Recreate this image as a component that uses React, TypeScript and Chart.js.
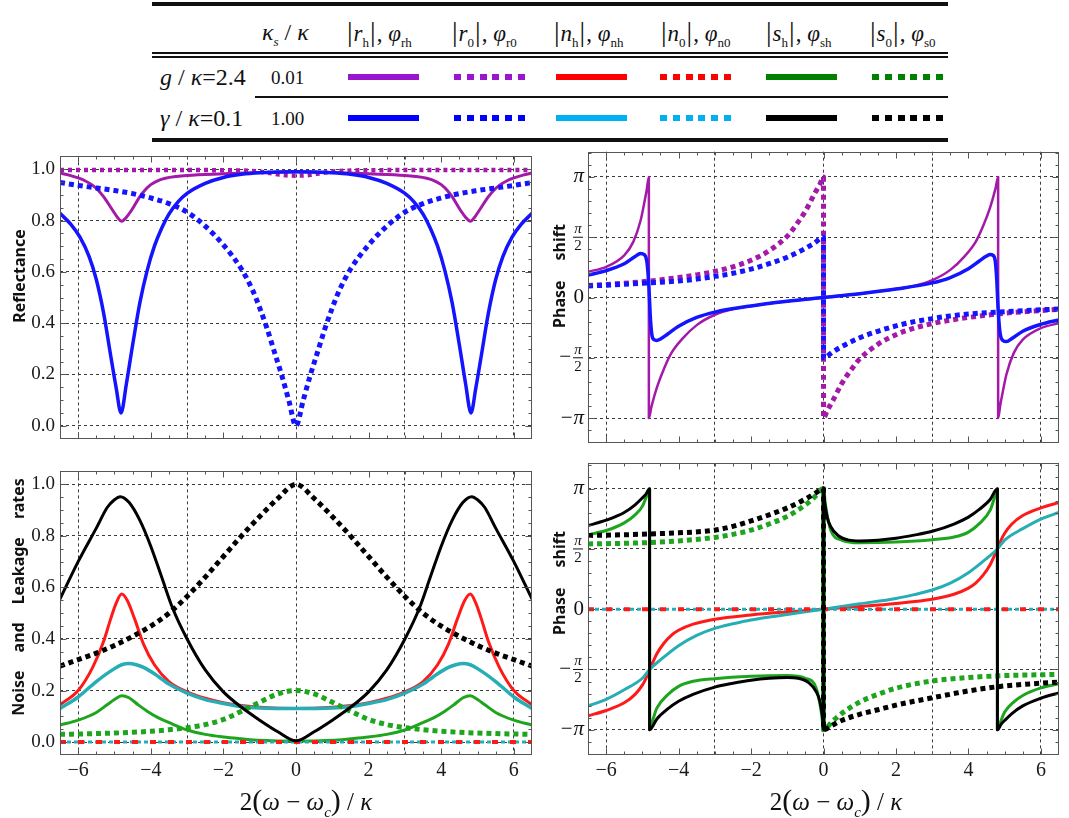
import React, { useEffect, useRef } from 'react';
import { Chart, registerables } from 'chart.js';
Chart.register(...registerables);

const SERIF = '"Liberation Serif", "Times New Roman", serif';
const SANS = '"Noto Sans", "Open Sans", sans-serif';

// ---------- axes / ticks ----------
const X_MIN = -6.5;
const X_MAX = 6.5;
const xTickValues = [-6, -4, -3, -2, 0, 2, 3, 4, 6];
const xTickLabels = ['−6', '−4', '', '−2', '0', '2', '', '4', '6'];
const xGridEvery = 3;
const ampRange = [-0.05, 1.05];
const ampTickValues = [0, 0.2, 0.4, 0.6, 0.8, 1.0];
const ampTickLabels = ['0.0', '0.2', '0.4', '0.6', '0.8', '1.0'];
const phaseRange = [-3.8, 3.8];
const phaseTickValues = [-Math.PI, -Math.PI / 2, 0, Math.PI / 2, Math.PI];
const phaseTickLabels = ['−π', '−π/2', '0', 'π/2', 'π'];

// ---------- colours ----------
const C = {
  purple: '#a31aa8',
  blue: '#1414ff',
  red: '#ff1a1a',
  cyan: '#27adb5',
  green: '#1ea51e',
  black: '#000000',
};

// ================= Panel 1: Reflectance (A: κs/κ=0.01, B: κs/κ=1.00) =================
const reflRhX_A = [-6.5, -6.25, -6, -5.8, -5.6, -5.45, -5.3, -5.05, -4.92, -4.8, -4.67, -4.53, -4.3, -4.15, -4, -3.8, -3.6, -3.3, -3, -2, -1, 0, 1, 2, 3, 3.3, 3.6, 3.8, 4, 4.15, 4.3, 4.53, 4.67, 4.8, 4.92, 5.05, 5.3, 5.45, 5.6, 5.8, 6, 6.25, 6.5];
const reflRhY_A = [0.985, 0.977, 0.966, 0.954, 0.937, 0.918, 0.893, 0.84, 0.813, 0.797, 0.813, 0.84, 0.893, 0.92, 0.94, 0.956, 0.965, 0.972, 0.976, 0.982, 0.987, 0.99, 0.987, 0.982, 0.976, 0.972, 0.965, 0.956, 0.94, 0.92, 0.893, 0.84, 0.813, 0.797, 0.813, 0.84, 0.893, 0.918, 0.937, 0.954, 0.966, 0.977, 0.985];
const reflR0X_A = [-6.5, -4, -2, -1.2, -0.8, -0.4, 0, 0.4, 0.8, 1.2, 2, 4, 6.5];
const reflR0Y_A = [0.997, 0.997, 0.996, 0.993, 0.987, 0.978, 0.975, 0.978, 0.987, 0.993, 0.996, 0.997, 0.997];
const reflRhX_B = [-6.5, -6.2, -5.95, -5.7, -5.5, -5.3, -5.1, -4.95, -4.82, -4.67, -4.5, -4.3, -4.1, -3.9, -3.7, -3.5, -3.25, -3, -2.5, -2, -1.5, -1, 0, 1, 1.5, 2, 2.5, 3, 3.25, 3.5, 3.7, 3.9, 4.1, 4.3, 4.5, 4.67, 4.82, 4.95, 5.1, 5.3, 5.5, 5.7, 5.95, 6.2, 6.5];
const reflRhY_B = [0.828, 0.785, 0.735, 0.66, 0.57, 0.44, 0.27, 0.145, 0.05, 0.165, 0.315, 0.48, 0.605, 0.7, 0.77, 0.825, 0.873, 0.906, 0.945, 0.968, 0.98, 0.986, 0.99, 0.986, 0.98, 0.968, 0.945, 0.906, 0.873, 0.825, 0.77, 0.7, 0.605, 0.48, 0.315, 0.165, 0.05, 0.145, 0.27, 0.44, 0.57, 0.66, 0.735, 0.785, 0.828];
const reflR0X_B = [-6.5, -6, -5.5, -5, -4.5, -4, -3.5, -3, -2.5, -2, -1.5, -1.2, -1, -0.8, -0.6, -0.4, -0.2, 0, 0.2, 0.4, 0.6, 0.8, 1, 1.2, 1.5, 2, 2.5, 3, 3.5, 4, 4.5, 5, 5.5, 6, 6.5];
const reflR0Y_B = [0.948, 0.937, 0.927, 0.917, 0.905, 0.888, 0.866, 0.833, 0.778, 0.705, 0.61, 0.53, 0.46, 0.38, 0.29, 0.2, 0.1, 0.0, 0.1, 0.2, 0.29, 0.38, 0.46, 0.53, 0.61, 0.705, 0.778, 0.833, 0.866, 0.888, 0.905, 0.917, 0.927, 0.937, 0.948];

// ================= Panel 2: reflection phase =================
const phRhX_A = [-6.5, -6, -5.5, -5.25, -5.05, -4.95, -4.88, -4.82, -4.82, -4.75, -4.6, -4.4, -4.2, -3.9, -3.5, -3, -2.5, -2, -1, 0, 1, 2, 2.5, 3, 3.5, 3.9, 4.2, 4.4, 4.6, 4.75, 4.82, 4.82, 4.88, 4.95, 5.05, 5.25, 5.5, 6, 6.5];
const phRhY_A = [0.67, 0.8, 1.1, 1.45, 2.0, 2.45, 2.8, 3.1416, -3.1416, -2.85, -2.35, -1.85, -1.45, -1.08, -0.72, -0.45, -0.3, -0.22, -0.1, 0, 0.1, 0.22, 0.3, 0.45, 0.72, 1.08, 1.45, 1.85, 2.35, 2.85, 3.1416, -3.1416, -2.8, -2.45, -2.0, -1.45, -1.1, -0.8, -0.67];
const phRhX_B = [-6.5, -6, -5.5, -5.2, -5.05, -4.95, -4.87, -4.82, -4.78, -4.74, -4.68, -4.6, -4.5, -4.3, -4, -3.5, -3, -2, -1, 0, 1, 2, 3, 3.5, 4, 4.3, 4.5, 4.6, 4.68, 4.74, 4.78, 4.82, 4.87, 4.95, 5.05, 5.2, 5.5, 6, 6.5];
const phRhY_B = [0.585, 0.7, 0.88, 1.07, 1.15, 1.12, 0.9, 0.3, -0.5, -0.95, -1.1, -1.12, -1.08, -0.95, -0.75, -0.52, -0.38, -0.22, -0.1, 0, 0.1, 0.22, 0.38, 0.52, 0.75, 0.95, 1.08, 1.12, 1.1, 0.95, 0.5, -0.3, -0.9, -1.12, -1.15, -1.07, -0.88, -0.7, -0.585];
const phR0X_A = [-6.5, -6, -5, -4, -3.5, -3, -2.5, -2, -1.5, -1, -0.75, -0.5, -0.25, -0.1, 0, 0, 0.1, 0.25, 0.5, 0.75, 1, 1.5, 2, 2.5, 3, 3.5, 4, 5, 6, 6.5];
const phR0Y_A = [0.31, 0.34, 0.41, 0.52, 0.59, 0.68, 0.8, 0.97, 1.22, 1.6, 1.9, 2.25, 2.7, 2.95, 3.1416, -3.1416, -2.95, -2.7, -2.25, -1.9, -1.6, -1.22, -0.97, -0.8, -0.68, -0.59, -0.52, -0.41, -0.34, -0.31];
const phR0X_B = [-6.5, -6, -5, -4, -3.5, -3, -2.5, -2, -1.5, -1, -0.5, -0.25, 0, 0, 0.25, 0.5, 1, 1.5, 2, 2.5, 3, 3.5, 4, 5, 6, 6.5];
const phR0Y_B = [0.3, 0.32, 0.37, 0.43, 0.48, 0.55, 0.63, 0.74, 0.88, 1.05, 1.28, 1.42, 1.5708, -1.5708, -1.42, -1.28, -1.05, -0.88, -0.74, -0.63, -0.55, -0.48, -0.43, -0.37, -0.32, -0.3];

// ================= Panel 3: noise and leakage rates =================
const rateShX_B = [-6.5, -6, -5.5, -5.2, -5, -4.84, -4.6, -4.3, -4, -3.7, -3.4, -3, -2.5, -2, -1.5, -1, -0.5, 0, 0.5, 1, 1.5, 2, 2.5, 3, 3.4, 3.7, 4, 4.3, 4.6, 4.84, 5, 5.2, 5.5, 6, 6.5];
const rateShY_B = [0.555, 0.7, 0.83, 0.91, 0.94, 0.952, 0.93, 0.86, 0.76, 0.64, 0.52, 0.4, 0.28, 0.195, 0.135, 0.085, 0.04, 0.005, 0.04, 0.085, 0.135, 0.195, 0.28, 0.4, 0.52, 0.64, 0.76, 0.86, 0.93, 0.952, 0.94, 0.91, 0.83, 0.7, 0.555];
const rateS0X_B = [-6.5, -6, -5.5, -5, -4.5, -4, -3.5, -3, -2.5, -2, -1.5, -1, -0.5, 0, 0.5, 1, 1.5, 2, 2.5, 3, 3.5, 4, 4.5, 5, 5.5, 6, 6.5];
const rateS0Y_B = [0.295, 0.32, 0.345, 0.375, 0.41, 0.45, 0.5, 0.565, 0.64, 0.72, 0.8, 0.875, 0.945, 1.0, 0.945, 0.875, 0.8, 0.72, 0.64, 0.565, 0.5, 0.45, 0.41, 0.375, 0.345, 0.32, 0.295];
const rateNhX_A = [-6.5, -6, -5.6, -5.3, -5.1, -4.95, -4.8, -4.65, -4.45, -4.2, -3.9, -3.5, -3, -2.5, -2, -1.5, -1, 0, 1, 1.5, 2, 2.5, 3, 3.5, 3.9, 4.2, 4.45, 4.65, 4.8, 4.95, 5.1, 5.3, 5.6, 6, 6.5];
const rateNhY_A = [0.145, 0.2, 0.29, 0.39, 0.48, 0.54, 0.574, 0.55, 0.48, 0.38, 0.3, 0.235, 0.195, 0.17, 0.153, 0.142, 0.135, 0.13, 0.135, 0.142, 0.153, 0.17, 0.195, 0.235, 0.3, 0.38, 0.48, 0.55, 0.574, 0.54, 0.48, 0.39, 0.29, 0.2, 0.145];
const rateNhX_B = [-6.5, -6, -5.5, -5, -4.8, -4.6, -4.4, -4.2, -3.9, -3.5, -3, -2.5, -2, -1.5, -1, 0, 1, 1.5, 2, 2.5, 3, 3.5, 3.9, 4.2, 4.4, 4.6, 4.8, 5, 5.5, 6, 6.5];
const rateNhY_B = [0.13, 0.175, 0.235, 0.285, 0.3, 0.305, 0.3, 0.29, 0.265, 0.225, 0.19, 0.165, 0.15, 0.138, 0.132, 0.13, 0.132, 0.138, 0.15, 0.165, 0.19, 0.225, 0.265, 0.29, 0.3, 0.305, 0.3, 0.285, 0.235, 0.175, 0.13];
const rateShX_A = [-6.5, -6, -5.5, -5.2, -5, -4.8, -4.6, -4.35, -4.1, -3.8, -3.4, -3, -2.5, -2, -1.5, -1, 0, 1, 1.5, 2, 2.5, 3, 3.4, 3.8, 4.1, 4.35, 4.6, 4.8, 5, 5.2, 5.5, 6, 6.5];
const rateShY_A = [0.066, 0.085, 0.115, 0.145, 0.165, 0.18, 0.172, 0.145, 0.12, 0.095, 0.07, 0.047, 0.03, 0.02, 0.013, 0.007, 0.003, 0.007, 0.013, 0.02, 0.03, 0.047, 0.07, 0.095, 0.12, 0.145, 0.172, 0.18, 0.165, 0.145, 0.115, 0.085, 0.066];
const rateS0X_A = [-6.5, -5.5, -4.5, -4, -3.5, -3, -2.5, -2, -1.5, -1, -0.5, 0, 0.5, 1, 1.5, 2, 2.5, 3, 3.5, 4, 4.5, 5.5, 6.5];
const rateS0Y_A = [0.03, 0.033, 0.038, 0.042, 0.048, 0.056, 0.068, 0.088, 0.12, 0.155, 0.187, 0.2, 0.187, 0.155, 0.12, 0.088, 0.068, 0.056, 0.048, 0.042, 0.038, 0.033, 0.03];
const n0X = [-6.5, 6.5];
const rateN0Y_A = [0, 0];
const rateN0Y_B = [0, 0];

// ================= Panel 4: noise / leakage phase =================
const phShX_B = [-6.5, -6, -5.5, -5.2, -5, -4.9, -4.8, -4.8, -4.6, -4.3, -4, -3.6, -3, -2.5, -2, -1.5, -1, -0.7, -0.4, -0.2, -0.1, -0.03, 0, 0, 0.03, 0.1, 0.2, 0.4, 0.7, 1, 1.5, 2, 2.5, 3, 3.6, 4, 4.3, 4.6, 4.8, 4.8, 4.9, 5, 5.2, 5.5, 6, 6.5];
const phShY_B = [2.18, 2.32, 2.52, 2.72, 2.9, 3.0, 3.1416, -3.1416, -2.86, -2.6, -2.4, -2.22, -2.03, -1.93, -1.85, -1.8, -1.78, -1.8, -1.92, -2.15, -2.4, -2.8, -3.1416, 3.1416, 2.8, 2.4, 2.15, 1.92, 1.8, 1.78, 1.8, 1.85, 1.93, 2.03, 2.22, 2.4, 2.6, 2.86, 3.1416, -3.1416, -3.0, -2.9, -2.72, -2.52, -2.32, -2.18];
const phShX_A = [-6.5, -6, -5.5, -5.2, -5, -4.9, -4.8, -4.8, -4.7, -4.6, -4.3, -4, -3.6, -3, -2, -1, -0.5, -0.2, -0.05, 0, 0, 0.05, 0.2, 0.5, 1, 2, 3, 3.6, 4, 4.3, 4.6, 4.7, 4.8, 4.8, 4.9, 5, 5.2, 5.5, 6, 6.5];
const phShY_A = [1.94, 2.05, 2.25, 2.46, 2.68, 2.9, 3.1416, -3.1416, -2.85, -2.58, -2.23, -2.01, -1.88, -1.81, -1.75, -1.73, -1.8, -2.06, -2.75, -3.1416, 3.1416, 2.75, 2.06, 1.8, 1.73, 1.75, 1.81, 1.88, 2.01, 2.23, 2.58, 2.85, 3.1416, -3.1416, -2.9, -2.68, -2.46, -2.25, -2.05, -1.94];
const phS0X_B = [-6.5, -5.5, -4.5, -4, -3, -2.5, -2, -1.5, -1, -0.5, -0.2, 0, 0, 0.25, 0.5, 1, 1.5, 2, 2.5, 3, 4, 5, 6.5];
const phS0Y_B = [1.92, 1.94, 1.97, 1.99, 2.06, 2.16, 2.3, 2.46, 2.64, 2.87, 3.04, 3.1416, -3.1416, -3.02, -2.9, -2.74, -2.62, -2.5, -2.4, -2.31, -2.13, -2.0, -1.9];
const phS0X_A = [-6.5, -5, -4, -3, -2.5, -2, -1.5, -1, -0.5, -0.25, 0, 0, 0.25, 0.5, 1, 1.5, 2, 2.5, 3, 4, 5, 6.5];
const phS0Y_A = [1.7, 1.73, 1.78, 1.87, 1.95, 2.06, 2.22, 2.42, 2.72, 2.92, 3.1416, -3.1416, -2.92, -2.72, -2.42, -2.22, -2.06, -1.95, -1.87, -1.78, -1.73, -1.7];
const phNhX_A = [-6.5, -6, -5.5, -5.2, -5, -4.9, -4.8, -4.7, -4.6, -4.4, -4.2, -4, -3.6, -3, -2, -1, 0, 1, 2, 3, 3.6, 4, 4.2, 4.4, 4.6, 4.7, 4.8, 4.9, 5, 5.2, 5.5, 6, 6.5];
const phNhY_A = [-2.78, -2.64, -2.44, -2.22, -1.98, -1.8, -1.5708, -1.36, -1.16, -0.88, -0.68, -0.55, -0.39, -0.26, -0.15, -0.07, 0, 0.07, 0.15, 0.26, 0.39, 0.55, 0.68, 0.88, 1.16, 1.36, 1.5708, 1.8, 1.98, 2.22, 2.44, 2.64, 2.78];
const phNhX_B = [-6.5, -6, -5.5, -5, -4.8, -4.5, -4, -3.5, -3, -2.5, -2, -1, 0, 1, 2, 2.5, 3, 3.5, 4, 4.5, 4.8, 5, 5.5, 6, 6.5];
const phNhY_B = [-2.52, -2.35, -2.1, -1.8, -1.5708, -1.32, -0.95, -0.68, -0.5, -0.38, -0.28, -0.14, 0, 0.14, 0.28, 0.38, 0.5, 0.68, 0.95, 1.32, 1.5708, 1.8, 2.1, 2.35, 2.52];
const phN0Y_A = [0, 0];
const phN0Y_B = [0, 0];

// ---------- legend table ----------
const legendSymbols = ['r', 'r', 'n', 'n', 's', 's'];
const legendSubs = ['h', '0', 'h', '0', 'h', '0'];
const legendPhiSubs = ['rh', 'r0', 'nh', 'n0', 'sh', 's0'];
const legendHeaderX = [346, 451, 553, 660, 765, 869];
const legendSwatchX = [348, 454, 556, 660, 766, 872];
const legendDotted = [false, true, false, true, false, true];
const legendRowKs = ['0.01', '1.00'];
const legendRowColors = [
  ['#9a16cc', '#9a16cc', '#ff0000', '#ff0000', '#008000', '#008000'],
  ['#0000ff', '#0000ff', '#00b0f0', '#00b0f0', '#000000', '#000000'],
];
const legendRowY = [77, 118];

// ---------- helpers ----------
type Series = { xs: number[]; ys: number[]; color: string; width: number; dash?: number[]; dashOffset?: number };

function toDataset(s: Series) {
  return {
    data: s.xs.map((x, i) => ({ x, y: s.ys[i] })),
    borderColor: s.color,
    backgroundColor: s.color,
    borderWidth: s.width,
    borderDash: s.dash || [],
    borderDashOffset: s.dashOffset || 0,
    borderCapStyle: 'butt',
    borderJoinStyle: 'round',
    pointRadius: 0,
    pointHoverRadius: 0,
    fill: false,
    cubicInterpolationMode: 'monotone',
  };
}

const decoPlugin = {
  id: 'deco',
  afterDraw(chart: any, _args: any, opts: any) {
    const { ctx, chartArea: a } = chart;
    const xs = chart.scales.x;
    const ys = chart.scales.y;
    ctx.save();
    ctx.strokeStyle = '#555';
    ctx.lineWidth = 1;
    const L = Math.round(a.left) + 0.5;
    const R = Math.round(a.right) - 0.5;
    const T = Math.round(a.top) + 0.5;
    const B = Math.round(a.bottom) - 0.5;
    ctx.beginPath();
    for (let k = -13; k <= 13; k++) {
      const v = k * 0.5;
      if (v <= X_MIN + 1e-6 || v >= X_MAX - 1e-6) continue;
      const len = k % 4 === 0 ? 6 : 3;
      const px = Math.round(xs.getPixelForValue(v)) + 0.5;
      ctx.moveTo(px, B); ctx.lineTo(px, B - len);
      ctx.moveTo(px, T); ctx.lineTo(px, T + len);
    }
    const step = opts.yStep;
    for (let k = Math.ceil(ys.min / step); k * step <= ys.max; k++) {
      const v = k * step;
      if (v <= ys.min + 1e-6 || v >= ys.max - 1e-6) continue;
      const len = k % opts.yMajorEvery === 0 ? 6 : 3;
      const py = Math.round(ys.getPixelForValue(v)) + 0.5;
      ctx.moveTo(L, py); ctx.lineTo(L + len, py);
      ctx.moveTo(R, py); ctx.lineTo(R - len, py);
    }
    ctx.stroke();
    ctx.strokeRect(L, T, R - L, B - T);

    // phase tick labels
    if (opts.phaseLabels) {
      const xr = a.left - 4;
      ctx.fillStyle = '#111';
      ctx.textBaseline = 'middle';
      phaseTickValues.forEach((v, i) => {
        const lab = phaseTickLabels[i];
        const py = ys.getPixelForValue(v);
        const neg = lab.startsWith('−');
        const body = neg ? lab.slice(1) : lab;
        let leftEdge = xr;
        if (body === 'π') {
          ctx.font = `italic 21px ${SERIF}`;
          ctx.textAlign = 'right';
          ctx.fillText('π', xr, py);
          leftEdge = xr - ctx.measureText('π').width;
        } else if (body === '0') {
          ctx.font = `21px ${SERIF}`;
          ctx.textAlign = 'right';
          ctx.fillText('0', xr, py);
        } else {
          const cx = xr - 6;
          ctx.textAlign = 'center';
          ctx.font = `italic 15px ${SERIF}`;
          ctx.fillText('π', cx, py - 8);
          ctx.font = `15px ${SERIF}`;
          ctx.fillText('2', cx, py + 9);
          ctx.fillRect(cx - 5, py - 0.5, 10, 1);
          leftEdge = cx - 6;
        }
        if (neg) {
          ctx.font = `21px ${SERIF}`;
          ctx.textAlign = 'right';
          ctx.fillText('−', leftEdge - 1, py);
        }
      });
    }

    // rotated axis title
    const t = opts.title;
    ctx.save();
    ctx.translate(t.x, t.y);
    ctx.rotate(-Math.PI / 2);
    ctx.font = `bold 16px ${SANS}`;
    ctx.fillStyle = '#111';
    ctx.textBaseline = 'middle';
    ctx.textAlign = 'left';
    const widths = t.words.map((w: string) => ctx.measureText(w).width);
    const total = widths.reduce((p: number, c: number) => p + c, 0) + t.gap * (t.words.length - 1);
    let cx = -total / 2;
    t.words.forEach((w: string, i: number) => {
      ctx.fillText(w, cx, 0);
      cx += widths[i] + t.gap;
    });
    ctx.restore();
    ctx.restore();
  },
};

type PanelCfg = {
  left: number; top: number; w: number; h: number;
  yAxisWidth: number; padTop: number; padRight: number; xAxisHeight: number;
  phase: boolean; showX: boolean;
  title: { words: string[]; gap: number; x: number; y: number };
  series: Series[];
};

function buildConfig(cfg: PanelCfg): any {
  const yRange = cfg.phase ? phaseRange : ampRange;
  const yTicks = cfg.phase ? phaseTickValues : ampTickValues;
  return {
    type: 'line',
    data: { datasets: cfg.series.map(toDataset) },
    plugins: [decoPlugin],
    options: {
      animation: false,
      responsive: false,
      devicePixelRatio: 1,
      events: [],
      layout: { padding: { top: cfg.padTop, right: cfg.padRight, bottom: 0, left: 0 } },
      plugins: {
        legend: { display: false },
        tooltip: { enabled: false },
        deco: {
          phaseLabels: cfg.phase,
          yStep: cfg.phase ? Math.PI / 10 : 0.05,
          yMajorEvery: cfg.phase ? 5 : 4,
          title: cfg.title,
        },
      },
      scales: {
        x: {
          type: 'linear', min: X_MIN, max: X_MAX, bounds: 'data',
          afterBuildTicks: (s: any) => { s.ticks = xTickValues.map((v) => ({ value: v })); },
          afterFit: (s: any) => { s.height = cfg.xAxisHeight; },
          ticks: {
            display: cfg.showX, autoSkip: false, maxRotation: 0, minRotation: 0, padding: 4,
            color: '#1a1a1a', font: { family: SERIF, size: 20 },
            callback: (_v: any, i: number) => xTickLabels[i],
          },
          grid: {
            drawTicks: false, lineWidth: 1,
            color: (c: any) => (c.tick && Math.abs(c.tick.value % xGridEvery) < 1e-9 ? '#3a3a3a' : 'rgba(0,0,0,0)'),
          },
          border: { display: false, dash: [3, 3] },
        },
        y: {
          type: 'linear', min: yRange[0], max: yRange[1], bounds: 'data',
          afterBuildTicks: (s: any) => { s.ticks = yTicks.map((v) => ({ value: v })); },
          afterFit: (s: any) => { s.width = cfg.yAxisWidth; },
          ticks: {
            display: !cfg.phase, autoSkip: false, padding: 5,
            color: '#1a1a1a', font: { family: SERIF, size: 19 },
            callback: (_v: any, i: number) => ampTickLabels[i],
          },
          grid: { drawTicks: false, lineWidth: 1, color: '#3a3a3a' },
          border: { display: false, dash: [3, 3] },
        },
      },
    },
  };
}

function Panel({ cfg }: { cfg: PanelCfg }) {
  const ref = useRef<HTMLCanvasElement>(null);
  useEffect(() => {
    const chart = new Chart(ref.current as HTMLCanvasElement, buildConfig(cfg));
    return () => chart.destroy();
  }, []);
  return (
    <canvas
      ref={ref}
      width={cfg.w}
      height={cfg.h}
      style={{ position: 'absolute', left: cfg.left, top: cfg.top, width: cfg.w, height: cfg.h }}
    />
  );
}

const DOT = [5, 4];

const panels: PanelCfg[] = [
  {
    left: 0, top: 140, w: 540, h: 315, yAxisWidth: 60, padTop: 11.7, padRight: 8, xAxisHeight: 11.7,
    phase: false, showX: false,
    title: { words: ['Reflectance'], gap: 0, x: 20, y: 136 },
    series: [
      { xs: reflRhX_B, ys: reflRhY_B, color: C.blue, width: 3.5 },
      { xs: reflR0X_B, ys: reflR0Y_B, color: C.blue, width: 5, dash: DOT },
      { xs: reflRhX_A, ys: reflRhY_A, color: C.purple, width: 3 },
      { xs: reflR0X_A, ys: reflR0Y_A, color: C.purple, width: 4.5, dash: [4, 4] },
    ],
  },
  {
    left: 540, top: 140, w: 529, h: 315, yAxisWidth: 48, padTop: 11.7, padRight: 10, xAxisHeight: 11.7,
    phase: true, showX: false,
    title: { words: ['Phase', 'shift'], gap: 20, x: 20, y: 136 },
    series: [
      { xs: phRhX_B, ys: phRhY_B, color: C.blue, width: 3.5 },
      { xs: phR0X_B, ys: phR0Y_B, color: C.blue, width: 5, dash: DOT },
      { xs: phRhX_A, ys: phRhY_A, color: C.purple, width: 2.5 },
      { xs: phR0X_A, ys: phR0Y_A, color: C.purple, width: 5, dash: DOT },
    ],
  },
  {
    left: 0, top: 455, w: 540, h: 363, yAxisWidth: 60, padTop: 8.4, padRight: 8, xAxisHeight: 63,
    phase: false, showX: true,
    title: { words: ['Noise', 'and', 'Leakage', 'rates'], gap: 18, x: 19, y: 142 },
    series: [
      { xs: rateShX_B, ys: rateShY_B, color: C.black, width: 3 },
      { xs: rateS0X_B, ys: rateS0Y_B, color: C.black, width: 5, dash: DOT },
      { xs: n0X, ys: rateN0Y_A, color: C.red, width: 4, dash: [6, 12] },
      { xs: n0X, ys: rateN0Y_B, color: C.cyan, width: 3, dash: [4, 3] },
      { xs: rateS0X_A, ys: rateS0Y_A, color: C.green, width: 5, dash: DOT },
      { xs: rateShX_A, ys: rateShY_A, color: C.green, width: 3 },
      { xs: rateNhX_B, ys: rateNhY_B, color: C.cyan, width: 3.5 },
      { xs: rateNhX_A, ys: rateNhY_A, color: C.red, width: 3 },
    ],
  },
  {
    left: 540, top: 455, w: 529, h: 363, yAxisWidth: 48, padTop: 8.4, padRight: 10, xAxisHeight: 63,
    phase: true, showX: true,
    title: { words: ['Phase', 'shift'], gap: 20, x: 20, y: 128 },
    series: [
      { xs: phShX_B, ys: phShY_B, color: C.black, width: 3 },
      { xs: phS0X_B, ys: phS0Y_B, color: C.black, width: 5, dash: DOT },
      { xs: n0X, ys: phN0Y_A, color: C.red, width: 4, dash: [6, 12] },
      { xs: n0X, ys: phN0Y_B, color: C.cyan, width: 3, dash: [4, 3] },
      { xs: phShX_A, ys: phShY_A, color: C.green, width: 3 },
      { xs: phS0X_A, ys: phS0Y_A, color: C.green, width: 5, dash: DOT },
      { xs: phNhX_B, ys: phNhY_B, color: C.cyan, width: 3 },
      { xs: phNhX_A, ys: phNhY_A, color: C.red, width: 3 },
    ],
  },
];

// ---------- HTML parts ----------
const Sub = ({ children }: { children: React.ReactNode }) => (
  <span style={{ fontSize: 13, position: 'relative', top: 6, fontStyle: 'normal' }}>{children}</span>
);
const Bar = () => <span style={{ fontSize: 28, fontStyle: 'normal', margin: '0 1px' }}>|</span>;

function Txt({ x, y, size = 24, children }: { x: number; y: number; size?: number; children: React.ReactNode }) {
  return (
    <div
      style={{
        position: 'absolute', left: x, top: y, transform: 'translateY(-50%)', whiteSpace: 'nowrap',
        fontFamily: SERIF, fontSize: size, lineHeight: 1, color: '#111',
      }}
    >
      {children}
    </div>
  );
}

function Legend() {
  const rule = (top: number, h: number, left = 152, width = 796) => (
    <div style={{ position: 'absolute', left, top, width, height: h, background: '#111' }} />
  );
  return (
    <>
      {rule(2, 4)}
      {rule(51.5, 2)}
      {rule(55.5, 2)}
      {rule(96, 1.5, 255, 693)}
      {rule(138, 4)}
      <Txt x={262} y={32}>
        <i>κ</i><Sub><i>s</i></Sub> / <i>κ</i>
      </Txt>
      {legendSymbols.map((s, i) => (
        <Txt key={'h' + i} x={legendHeaderX[i]} y={32} size={23}>
          <Bar /><i>{s}</i><Sub>{legendSubs[i]}</Sub><Bar />, <i>φ</i><Sub>{legendPhiSubs[i]}</Sub>
        </Txt>
      ))}
      <Txt x={160} y={legendRowY[0]}>
        <i>g</i> / <i>κ</i>=2.4
      </Txt>
      <Txt x={160} y={legendRowY[1]}>
        <i>γ</i> / <i>κ</i>=0.1
      </Txt>
      {legendRowKs.map((k, r) => (
        <Txt key={'k' + r} x={271} y={legendRowY[r]} size={19}>{k}</Txt>
      ))}
      {legendRowColors.map((cols, r) =>
        cols.map((col, i) => (
          <div
            key={`sw${r}-${i}`}
            style={{
              position: 'absolute', left: legendSwatchX[i], top: legendRowY[r] - 3, width: 71, height: 6,
              background: legendDotted[i]
                ? `repeating-linear-gradient(to right, ${col} 0px, ${col} 7px, transparent 7px, transparent 12.8px)`
                : col,
            }}
          />
        )),
      )}
    </>
  );
}

function XTitle({ cx }: { cx: number }) {
  return (
    <div
      style={{
        position: 'absolute', left: cx, top: 786, transform: 'translateX(-50%)', whiteSpace: 'nowrap',
        fontFamily: SERIF, fontSize: 25, lineHeight: '28px', color: '#111',
      }}
    >
      2<span style={{ fontSize: 30 }}>(</span><i>ω</i> − <i>ω</i>
      <span style={{ fontSize: 15, position: 'relative', top: 7 }}><i>c</i></span>
      <span style={{ fontSize: 30 }}>)</span> / <i>κ</i>
    </div>
  );
}

export default function App() {
  return (
    <div style={{ position: 'absolute', left: 0, top: 0, width: 1069, height: 818, background: '#fff', overflow: 'hidden' }}>
      {panels.map((p, i) => (
        <Panel key={i} cfg={p} />
      ))}
      <Legend />
      <XTitle cx={306} />
      <XTitle cx={836} />
    </div>
  );
}
